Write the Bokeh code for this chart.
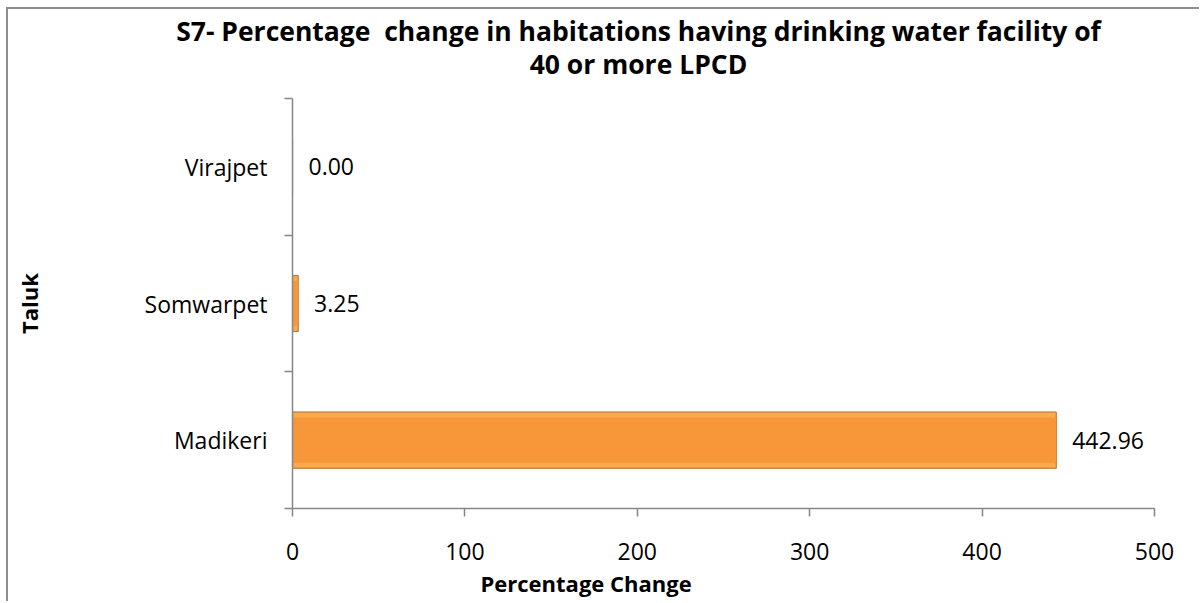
from bokeh.plotting import figure
from bokeh.models import Range1d, FixedTicker, ColumnDataSource, LabelSet, Title, Div
from bokeh.layouts import column
from bokeh.core.properties import value
from bokeh.embed import file_html
from bokeh.resources import INLINE

# ---- data ----
taluks = ["Madikeri", "Somwarpet", "Virajpet"]          # bottom to top
pct_change = [442.96, 3.25, 0.00]
value_labels = ["442.96", "3.25", "0.00"]
x_ticks = [0, 100, 200, 300, 400, 500]

title_line1 = "S7- Percentage&nbsp; change in habitations having drinking water facility of"
title_line2 = "40 or more LPCD"
x_title = "Percentage Change"
y_title = "Taluk"

FONT = "Open Sans"
AXIS_GREY = "#868686"

ypos = [i + 0.5 for i in range(len(taluks))]
src = ColumnDataSource(dict(y=ypos, v=pct_change, lab=value_labels, name=taluks))

# ---- title block ----
title_div = Div(
    text=(f'<div style="position:relative;left:35px;top:6px;width:1191px;text-align:center;'
          f'font-family:\'{FONT}\';font-weight:bold;font-size:26.5px;line-height:33px;color:black;">'
          f'{title_line1}<br>{title_line2}</div>'),
    width=1191, height=87, margin=0)

p = figure(width=1191, height=505, output_backend="svg", toolbar_location=None,
           title=None, margin=0,
           x_range=Range1d(0, 500), y_range=Range1d(0, len(taluks)),
           min_border_left=284, min_border_right=45, min_border_top=2, min_border_bottom=93)
p.outline_line_color = None
p.xgrid.grid_line_color = None
p.ygrid.grid_line_color = None
p.background_fill_color = "white"
p.border_fill_color = "white"

# bars
p.hbar(y="y", right="v", left=0, height=0.41, source=src,
       fill_color="#F59433", line_color="#B5621F", line_width=1.2)
p.hbar(y="y", right="v", left=0, height=0.41, source=src,
       fill_color="#FFD37A", fill_alpha=0.35, line_color=None)
p.hbar(y="y", right="v", left=0, height=0.33, source=src,
       fill_color="#F7973A", line_color=None)

# value labels
p.add_layout(LabelSet(x="v", y="y", text="lab", source=src, x_offset=16,
                      text_align="left", text_baseline="middle",
                      text_font=value(FONT), text_font_size=value("23px"),
                      text_color="black"))

# x axis
xa = p.xaxis[0]
xa.ticker = FixedTicker(ticks=x_ticks)
xa.axis_line_color = AXIS_GREY
xa.axis_line_width = 1.5
xa.major_tick_line_color = AXIS_GREY
xa.major_tick_line_width = 1.5
xa.major_tick_in = 0
xa.major_tick_out = 8
xa.minor_tick_line_color = None
xa.major_label_standoff = 26
xa.major_label_text_font = FONT
xa.major_label_text_font_size = "23px"
xa.major_label_text_color = "black"

# x axis title (sits left of the frame centre, as in the original)
p.add_layout(Title(text=x_title, align="left", offset=188, standoff=6,
                   text_font=FONT, text_font_size="22px", text_font_style="bold",
                   text_color="black"), "below")

# y axis: labels at band centres, tick marks at band boundaries
ya = p.yaxis[0]
ya.ticker = FixedTicker(ticks=ypos, minor_ticks=list(range(len(taluks) + 1)))
ya.major_label_overrides = {y: n for y, n in zip(ypos, taluks)}
ya.axis_line_color = AXIS_GREY
ya.axis_line_width = 1.5
ya.major_tick_line_color = None
ya.major_tick_in = 0
ya.major_tick_out = 0
ya.minor_tick_line_color = AXIS_GREY
ya.minor_tick_line_width = 1.5
ya.minor_tick_in = 0
ya.minor_tick_out = 8
ya.major_label_standoff = 17
ya.major_label_text_font = FONT
ya.major_label_text_font_size = "23px"
ya.major_label_text_color = "black"
ya.axis_label = y_title
ya.axis_label_text_font = FONT
ya.axis_label_text_font_size = "22px"
ya.axis_label_text_font_style = "bold"
ya.axis_label_text_color = "black"
ya.axis_label_standoff = 98

layout = column(title_div, p, spacing=0, margin=0)
layout.styles = {"margin-left": "6px", "margin-top": "7px", "background": "white",
                 "border-left": "2px solid #8E8E8E", "border-top": "2px solid #8E8E8E"}

open("out.html", "w").write(file_html(layout, INLINE))
